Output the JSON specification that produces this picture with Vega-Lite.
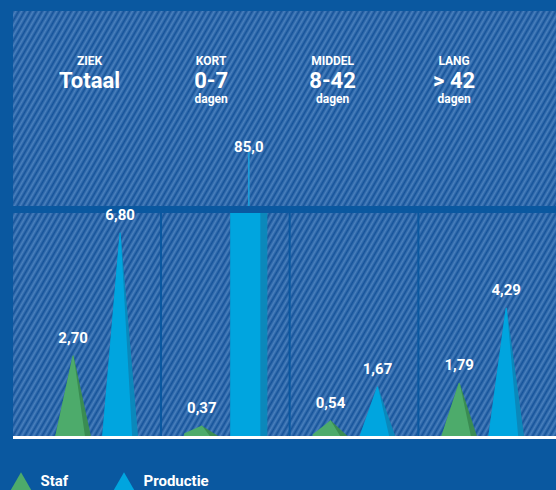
{
"$schema": "https://vega.github.io/schema/vega-lite/v6.json",
"width": 543, "height": 426,
"autosize": "none",
"padding": {"left": 13, "top": 11, "right": 0, "bottom": 53},
"background": "#0a58a0",
"config": {
 "view": {"stroke": null},
 "axis": {"disable": true},
 "font": "Roboto",
 "locale": {"number": {"decimal": ",", "thousands": ".", "grouping": [3], "currency": ["€", ""]}}
},
"datasets": {
 "bars": [
  {"cat": "Totaal", "series": "Staf", "value": 2.70},
  {"cat": "Totaal", "series": "Productie", "value": 6.80},
  {"cat": "0-7", "series": "Staf", "value": 0.37},
  {"cat": "0-7", "series": "Productie", "value": 85.0},
  {"cat": "8-42", "series": "Staf", "value": 0.54},
  {"cat": "8-42", "series": "Productie", "value": 1.67},
  {"cat": "> 42", "series": "Staf", "value": 1.79},
  {"cat": "> 42", "series": "Productie", "value": 4.29}
 ],
 "heads": [
  {"cat": "Totaal", "top": "ZIEK", "main": "Totaal", "sub": ""},
  {"cat": "0-7", "top": "KORT", "main": "0-7", "sub": "dagen"},
  {"cat": "8-42", "top": "MIDDEL", "main": "8-42", "sub": "dagen"},
  {"cat": "> 42", "top": "LANG", "main": "> 42", "sub": "dagen"}
 ]
},
"layer": [
 {
  "layer": [
   {
    "data": {"values": [{}]},
    "mark": {"type": "rect", "fill": {"gradient": "linear", "x1": 0, "y1": 0, "x2": 1.2056, "y2": 0.5461, "stops": [
{"offset":0,"color":"#15539a"},{"offset":0.0037,"color":"#4a80bd"},{"offset":0.0074,"color":"#15539a"},{"offset":0.0111,"color":"#4a80bd"},{"offset":0.0148,"color":"#15539a"},{"offset":0.0185,"color":"#4a80bd"},{"offset":0.0222,"color":"#15539a"},{"offset":0.0259,"color":"#4a80bd"},{"offset":0.0296,"color":"#15539a"},{"offset":0.0333,"color":"#4a80bd"},
{"offset":0.037,"color":"#15539a"},{"offset":0.0407,"color":"#4a80bd"},{"offset":0.0444,"color":"#15539a"},{"offset":0.0481,"color":"#4a80bd"},{"offset":0.0518,"color":"#15539a"},{"offset":0.0555,"color":"#4a80bd"},{"offset":0.0592,"color":"#15539a"},{"offset":0.0629,"color":"#4a80bd"},{"offset":0.0666,"color":"#15539a"},{"offset":0.0703,"color":"#4a80bd"},
{"offset":0.074,"color":"#15539a"},{"offset":0.0777,"color":"#4a80bd"},{"offset":0.0814,"color":"#15539a"},{"offset":0.0851,"color":"#4a80bd"},{"offset":0.0888,"color":"#15539a"},{"offset":0.0925,"color":"#4a80bd"},{"offset":0.0962,"color":"#15539a"},{"offset":0.0999,"color":"#4a80bd"},{"offset":0.1036,"color":"#15539a"},{"offset":0.1073,"color":"#4a80bd"},
{"offset":0.111,"color":"#15539a"},{"offset":0.1147,"color":"#4a80bd"},{"offset":0.1184,"color":"#15539a"},{"offset":0.1221,"color":"#4a80bd"},{"offset":0.1258,"color":"#15539a"},{"offset":0.1295,"color":"#4a80bd"},{"offset":0.1332,"color":"#15539a"},{"offset":0.1369,"color":"#4a80bd"},{"offset":0.1406,"color":"#15539a"},{"offset":0.1443,"color":"#4a80bd"},
{"offset":0.148,"color":"#15539a"},{"offset":0.1517,"color":"#4a80bd"},{"offset":0.1554,"color":"#15539a"},{"offset":0.1591,"color":"#4a80bd"},{"offset":0.1628,"color":"#15539a"},{"offset":0.1665,"color":"#4a80bd"},{"offset":0.1702,"color":"#15539a"},{"offset":0.1739,"color":"#4a80bd"},{"offset":0.1776,"color":"#15539a"},{"offset":0.1813,"color":"#4a80bd"},
{"offset":0.185,"color":"#15539a"},{"offset":0.1887,"color":"#4a80bd"},{"offset":0.1924,"color":"#15539a"},{"offset":0.1961,"color":"#4a80bd"},{"offset":0.1998,"color":"#15539a"},{"offset":0.2035,"color":"#4a80bd"},{"offset":0.2072,"color":"#15539a"},{"offset":0.2109,"color":"#4a80bd"},{"offset":0.2146,"color":"#15539a"},{"offset":0.2183,"color":"#4a80bd"},
{"offset":0.222,"color":"#15539a"},{"offset":0.2257,"color":"#4a80bd"},{"offset":0.2294,"color":"#15539a"},{"offset":0.2331,"color":"#4a80bd"},{"offset":0.2368,"color":"#15539a"},{"offset":0.2405,"color":"#4a80bd"},{"offset":0.2442,"color":"#15539a"},{"offset":0.2479,"color":"#4a80bd"},{"offset":0.2516,"color":"#15539a"},{"offset":0.2553,"color":"#4a80bd"},
{"offset":0.259,"color":"#15539a"},{"offset":0.2627,"color":"#4a80bd"},{"offset":0.2664,"color":"#15539a"},{"offset":0.2701,"color":"#4a80bd"},{"offset":0.2738,"color":"#15539a"},{"offset":0.2775,"color":"#4a80bd"},{"offset":0.2812,"color":"#15539a"},{"offset":0.2849,"color":"#4a80bd"},{"offset":0.2886,"color":"#15539a"},{"offset":0.2923,"color":"#4a80bd"},
{"offset":0.296,"color":"#15539a"},{"offset":0.2997,"color":"#4a80bd"},{"offset":0.3034,"color":"#15539a"},{"offset":0.3071,"color":"#4a80bd"},{"offset":0.3108,"color":"#15539a"},{"offset":0.3145,"color":"#4a80bd"},{"offset":0.3182,"color":"#15539a"},{"offset":0.3219,"color":"#4a80bd"},{"offset":0.3256,"color":"#15539a"},{"offset":0.3293,"color":"#4a80bd"},
{"offset":0.333,"color":"#15539a"},{"offset":0.3367,"color":"#4a80bd"},{"offset":0.3404,"color":"#15539a"},{"offset":0.3441,"color":"#4a80bd"},{"offset":0.3478,"color":"#15539a"},{"offset":0.3515,"color":"#4a80bd"},{"offset":0.3552,"color":"#15539a"},{"offset":0.3589,"color":"#4a80bd"},{"offset":0.3626,"color":"#15539a"},{"offset":0.3663,"color":"#4a80bd"},
{"offset":0.37,"color":"#15539a"},{"offset":0.3737,"color":"#4a80bd"},{"offset":0.3774,"color":"#15539a"},{"offset":0.3811,"color":"#4a80bd"},{"offset":0.3848,"color":"#15539a"},{"offset":0.3885,"color":"#4a80bd"},{"offset":0.3922,"color":"#15539a"},{"offset":0.3959,"color":"#4a80bd"},{"offset":0.3996,"color":"#15539a"},{"offset":0.4033,"color":"#4a80bd"},
{"offset":0.407,"color":"#15539a"},{"offset":0.4107,"color":"#4a80bd"},{"offset":0.4144,"color":"#15539a"},{"offset":0.4181,"color":"#4a80bd"},{"offset":0.4218,"color":"#15539a"},{"offset":0.4255,"color":"#4a80bd"},{"offset":0.4292,"color":"#15539a"},{"offset":0.4329,"color":"#4a80bd"},{"offset":0.4366,"color":"#15539a"},{"offset":0.4403,"color":"#4a80bd"},
{"offset":0.444,"color":"#15539a"},{"offset":0.4477,"color":"#4a80bd"},{"offset":0.4514,"color":"#15539a"},{"offset":0.4551,"color":"#4a80bd"},{"offset":0.4588,"color":"#15539a"},{"offset":0.4625,"color":"#4a80bd"},{"offset":0.4662,"color":"#15539a"},{"offset":0.4699,"color":"#4a80bd"},{"offset":0.4736,"color":"#15539a"},{"offset":0.4773,"color":"#4a80bd"},
{"offset":0.481,"color":"#15539a"},{"offset":0.4847,"color":"#4a80bd"},{"offset":0.4884,"color":"#15539a"},{"offset":0.4921,"color":"#4a80bd"},{"offset":0.4958,"color":"#15539a"},{"offset":0.4995,"color":"#4a80bd"},{"offset":0.5032,"color":"#15539a"},{"offset":0.5069,"color":"#4a80bd"},{"offset":0.5106,"color":"#15539a"},{"offset":0.5143,"color":"#4a80bd"},
{"offset":0.518,"color":"#15539a"},{"offset":0.5217,"color":"#4a80bd"},{"offset":0.5254,"color":"#15539a"},{"offset":0.5291,"color":"#4a80bd"},{"offset":0.5328,"color":"#15539a"},{"offset":0.5365,"color":"#4a80bd"},{"offset":0.5402,"color":"#15539a"},{"offset":0.5439,"color":"#4a80bd"},{"offset":0.5476,"color":"#15539a"},{"offset":0.5513,"color":"#4a80bd"},
{"offset":0.555,"color":"#15539a"},{"offset":0.5587,"color":"#4a80bd"},{"offset":0.5624,"color":"#15539a"},{"offset":0.5661,"color":"#4a80bd"},{"offset":0.5698,"color":"#15539a"},{"offset":0.5735,"color":"#4a80bd"},{"offset":0.5772,"color":"#15539a"},{"offset":0.5809,"color":"#4a80bd"},{"offset":0.5846,"color":"#15539a"},{"offset":0.5883,"color":"#4a80bd"},
{"offset":0.592,"color":"#15539a"},{"offset":0.5957,"color":"#4a80bd"},{"offset":0.5994,"color":"#15539a"},{"offset":0.6031,"color":"#4a80bd"},{"offset":0.6068,"color":"#15539a"},{"offset":0.6105,"color":"#4a80bd"},{"offset":0.6142,"color":"#15539a"},{"offset":0.6179,"color":"#4a80bd"},{"offset":0.6216,"color":"#15539a"},{"offset":0.6253,"color":"#4a80bd"},
{"offset":0.629,"color":"#15539a"},{"offset":0.6327,"color":"#4a80bd"},{"offset":0.6364,"color":"#15539a"},{"offset":0.6401,"color":"#4a80bd"},{"offset":0.6438,"color":"#15539a"},{"offset":0.6475,"color":"#4a80bd"},{"offset":0.6512,"color":"#15539a"},{"offset":0.6549,"color":"#4a80bd"},{"offset":0.6586,"color":"#15539a"},{"offset":0.6623,"color":"#4a80bd"},
{"offset":0.666,"color":"#15539a"},{"offset":0.6697,"color":"#4a80bd"},{"offset":0.6734,"color":"#15539a"},{"offset":0.6771,"color":"#4a80bd"},{"offset":0.6808,"color":"#15539a"},{"offset":0.6845,"color":"#4a80bd"},{"offset":0.6882,"color":"#15539a"},{"offset":0.6919,"color":"#4a80bd"},{"offset":0.6956,"color":"#15539a"},{"offset":0.6993,"color":"#4a80bd"},
{"offset":0.703,"color":"#15539a"},{"offset":0.7067,"color":"#4a80bd"},{"offset":0.7104,"color":"#15539a"},{"offset":0.7141,"color":"#4a80bd"},{"offset":0.7178,"color":"#15539a"},{"offset":0.7215,"color":"#4a80bd"},{"offset":0.7252,"color":"#15539a"},{"offset":0.7289,"color":"#4a80bd"},{"offset":0.7326,"color":"#15539a"},{"offset":0.7363,"color":"#4a80bd"},
{"offset":0.74,"color":"#15539a"},{"offset":0.7437,"color":"#4a80bd"},{"offset":0.7474,"color":"#15539a"},{"offset":0.7511,"color":"#4a80bd"},{"offset":0.7548,"color":"#15539a"},{"offset":0.7585,"color":"#4a80bd"},{"offset":0.7622,"color":"#15539a"},{"offset":0.7659,"color":"#4a80bd"},{"offset":0.7696,"color":"#15539a"},{"offset":0.7733,"color":"#4a80bd"},
{"offset":0.777,"color":"#15539a"},{"offset":0.7807,"color":"#4a80bd"},{"offset":0.7844,"color":"#15539a"},{"offset":0.7881,"color":"#4a80bd"},{"offset":0.7918,"color":"#15539a"},{"offset":0.7955,"color":"#4a80bd"},{"offset":0.7992,"color":"#15539a"},{"offset":0.8029,"color":"#4a80bd"},{"offset":0.8066,"color":"#15539a"},{"offset":0.8103,"color":"#4a80bd"},
{"offset":0.814,"color":"#15539a"},{"offset":0.8177,"color":"#4a80bd"},{"offset":0.8214,"color":"#15539a"},{"offset":0.8251,"color":"#4a80bd"},{"offset":0.8288,"color":"#15539a"},{"offset":0.8325,"color":"#4a80bd"},{"offset":0.8362,"color":"#15539a"},{"offset":0.8399,"color":"#4a80bd"},{"offset":0.8436,"color":"#15539a"},{"offset":0.8473,"color":"#4a80bd"},
{"offset":0.851,"color":"#15539a"},{"offset":0.8547,"color":"#4a80bd"},{"offset":0.8584,"color":"#15539a"},{"offset":0.8621,"color":"#4a80bd"},{"offset":0.8658,"color":"#15539a"},{"offset":0.8695,"color":"#4a80bd"},{"offset":0.8732,"color":"#15539a"},{"offset":0.8769,"color":"#4a80bd"},{"offset":0.8806,"color":"#15539a"},{"offset":0.8843,"color":"#4a80bd"},
{"offset":0.888,"color":"#15539a"},{"offset":0.8917,"color":"#4a80bd"},{"offset":0.8954,"color":"#15539a"},{"offset":0.8991,"color":"#4a80bd"},{"offset":0.9028,"color":"#15539a"},{"offset":0.9065,"color":"#4a80bd"},{"offset":0.9102,"color":"#15539a"},{"offset":0.9139,"color":"#4a80bd"},{"offset":0.9176,"color":"#15539a"},{"offset":0.9213,"color":"#4a80bd"},
{"offset":0.925,"color":"#15539a"},{"offset":0.9287,"color":"#4a80bd"},{"offset":0.9324,"color":"#15539a"},{"offset":0.9361,"color":"#4a80bd"},{"offset":0.9398,"color":"#15539a"},{"offset":0.9435,"color":"#4a80bd"},{"offset":0.9472,"color":"#15539a"},{"offset":0.9509,"color":"#4a80bd"},{"offset":0.9546,"color":"#15539a"},{"offset":0.9583,"color":"#4a80bd"},
{"offset":0.962,"color":"#15539a"},{"offset":0.9657,"color":"#4a80bd"},{"offset":0.9694,"color":"#15539a"},{"offset":0.9731,"color":"#4a80bd"},{"offset":0.9768,"color":"#15539a"},{"offset":0.9805,"color":"#4a80bd"},{"offset":0.9842,"color":"#15539a"},{"offset":0.9879,"color":"#4a80bd"},{"offset":0.9916,"color":"#15539a"},{"offset":0.9953,"color":"#4a80bd"},
{"offset":0.999,"color":"#15539a"},{"offset":1,"color":"#15539a"}
    ]}},
    "encoding": {}
   },
   {
    "data": {"name": "heads"},
    "transform": [{"filter": "datum.cat !== '> 42'"}],
    "mark": {"type": "rule", "stroke": "#0a58a0", "strokeWidth": 2},
    "encoding": {
     "x": {"field": "cat", "type": "nominal", "bandPosition": 1, "scale": {"type": "band", "domain": ["Totaal", "0-7", "8-42", "> 42"], "paddingInner": 0, "paddingOuter": 0.1096, "align": 0.683, "round": false}},
     "y": {"datum": 0, "scale": {"type": "linear", "domain": [0, 14.2], "nice": false, "zero": false}},
     "y2": {"datum": 7.4667}
    }
   },
   {
    "data": {"name": "bars"},
    "transform": [{"filter": "datum.value >= 20"}],
    "mark": {"type": "rule", "stroke": "#19a0dc", "strokeWidth": 1.5},
    "encoding": {
     "x": {"field": "cat", "type": "nominal"},
     "xOffset": {"field": "series", "type": "nominal", "scale": {"type": "band", "domain": ["_0","_1","_2","_3","_4","_5","_6","_7","_8","_9","_10","Staf|b","Staf","_13","_14","_15","_16","_17","_18","_19","_20","_21","_22","_23","_24","_25","_26","Productie|b","Productie","_29","_30","_31","_32","_33","_34","_35","_36","_37","_38","_39","_40","_41"], "paddingInner": 0, "paddingOuter": 0.905, "align": 0.776, "round": false}},
     "y": {"datum": 7.4667},
     "y2": {"datum": 9.5}
    }
   },
   {
    "data": {"values": [{}]},
    "mark": {"type": "rect", "fill": "#0a58a0"},
    "encoding": {"y": {"datum": 7.4667}, "y2": {"datum": 7.7}}
   },
   {
    "data": {"name": "bars"},
    "mark": {"type": "point", "filled": true, "opacity": 1, "clip": true, "shape": "triangle-up", "size": 420},
    "encoding": {
     "x": {"field": "cat", "type": "nominal"},
     "y": {"datum": -3},
     "color": {"field": "series", "type": "nominal", "scale": {"domain": ["Staf", "Productie"], "range": ["#4dab6b", "#00a5df"]},
      "legend": {"orient": "none", "legendX": -2.5, "legendY": 459.4, "direction": "horizontal", "title": null, "padding": 0,
       "symbolType": "triangle-up", "symbolSize": 420, "symbolStrokeWidth": 0, "symbolOpacity": 1,
       "labelColor": "white", "labelFont": "Roboto", "labelFontSize": 15, "labelFontWeight": "bold", "labelOffset": 9, "columnPadding": 45}}
    }
   },
   {
    "data": {"name": "bars"},
    "transform": [
     {"filter": "datum.value < 20"},
     {"calculate": "0", "as": "base"},
     {"fold": ["base", "value"], "as": ["end", "h"]}
    ],
    "mark": {"type": "trail", "clip": true},
    "encoding": {
     "x": {"field": "cat", "type": "nominal"},
     "xOffset": {"field": "series", "type": "nominal"},
     "y": {"field": "h", "type": "quantitative"},
     "size": {"field": "end", "type": "ordinal", "scale": {"domain": ["base", "value"], "range": [36, 0]}, "legend": null},
     "detail": [{"field": "cat"}, {"field": "series"}],
     "color": {"condition": {"test": "datum.series === 'Staf'", "value": "#3a8c52"}, "value": "#0b88bb"}
    }
   },
   {
    "data": {"name": "bars"},
    "transform": [
     {"filter": "datum.value < 20"},
     {"calculate": "0", "as": "base"},
     {"fold": ["base", "value"], "as": ["end", "h"]},
     {"calculate": "datum.end === 'base' ? datum.series + '|b' : datum.series", "as": "slot"}
    ],
    "mark": {"type": "trail", "clip": true},
    "encoding": {
     "x": {"field": "cat", "type": "nominal"},
     "xOffset": {"field": "slot", "type": "nominal"},
     "y": {"field": "h", "type": "quantitative"},
     "size": {"field": "end", "type": "ordinal", "scale": {"domain": ["base", "value"], "range": [30, 0]}, "legend": null},
     "detail": [{"field": "cat"}, {"field": "series"}],
     "color": {"condition": {"test": "datum.series === 'Staf'", "value": "#4dab6b"}, "value": "#00a5df"}
    }
   },
   {
    "data": {"name": "bars"},
    "transform": [{"filter": "datum.value < 20"}],
    "mark": {"type": "text", "dy": -18, "baseline": "middle", "align": "center", "font": "Roboto", "fontWeight": "bold", "fontSize": 15, "color": "white"},
    "encoding": {
     "x": {"field": "cat", "type": "nominal"},
     "xOffset": {"field": "series", "type": "nominal"},
     "y": {"field": "value", "type": "quantitative"},
     "text": {"field": "value", "type": "quantitative", "format": ".2f"}
    }
   }
  ],
  "resolve": {"scale": {"size": "independent"}}
 },
 {
  "data": {"name": "bars"},
  "transform": [{"filter": "datum.value >= 20"}],
  "layer": [
   {
    "mark": {"type": "bar", "width": 37, "xOffset": 23.5, "fill": "#0b88bb"},
    "encoding": {
     "x": {"field": "cat", "type": "nominal", "scale": {"type": "band", "domain": ["Totaal", "0-7", "8-42", "> 42"], "paddingInner": 0, "paddingOuter": 0.1096, "align": 0.683, "round": false}},
     "y": {"field": "value", "type": "quantitative", "scale": {"type": "linear", "domain": [0, 161.65], "nice": false, "zero": true}}
    }
   },
   {
    "mark": {"type": "bar", "width": 30, "xOffset": 20, "fill": "#00a5df"},
    "encoding": {
     "x": {"field": "cat", "type": "nominal"},
     "y": {"field": "value", "type": "quantitative"}
    }
   },
   {
    "mark": {"type": "text", "xOffset": 23.5, "dy": -65.5, "baseline": "middle", "align": "center", "font": "Roboto", "fontWeight": "bold", "fontSize": 15, "color": "white"},
    "encoding": {
     "x": {"field": "cat", "type": "nominal"},
     "y": {"field": "value", "type": "quantitative"},
     "text": {"field": "value", "type": "quantitative", "format": ".1f"}
    }
   }
  ]
 },
 {
  "data": {"name": "heads"},
  "layer": [
   {
    "mark": {"type": "text", "baseline": "alphabetic", "align": "center", "font": "Roboto", "fontWeight": "bold", "fontSize": 12, "color": "white"},
    "encoding": {
     "x": {"field": "cat", "type": "nominal", "scale": {"type": "band", "domain": ["Totaal", "0-7", "8-42", "> 42"], "paddingInner": 0, "paddingOuter": 0.2346, "align": 0.278, "round": false}},
     "y": {"datum": 12.39, "scale": {"type": "linear", "domain": [0, 14.2], "nice": false, "zero": false}},
     "text": {"field": "top", "type": "nominal"}
    }
   },
   {
    "mark": {"type": "text", "baseline": "alphabetic", "align": "center", "font": "Roboto", "fontWeight": "bold", "fontSize": 22, "color": "white"},
    "encoding": {
     "x": {"field": "cat", "type": "nominal"},
     "y": {"datum": 11.643},
     "text": {"field": "main", "type": "nominal"}
    }
   },
   {
    "mark": {"type": "text", "baseline": "alphabetic", "align": "center", "font": "Roboto", "fontWeight": "bold", "fontSize": 12, "color": "white"},
    "encoding": {
     "x": {"field": "cat", "type": "nominal"},
     "y": {"datum": 11.123},
     "text": {"field": "sub", "type": "nominal"}
    }
   },
   {
    "data": {"values": [{}]},
    "mark": {"type": "rule", "stroke": "white", "strokeWidth": 3},
    "encoding": {"y": {"datum": -0.017}}
   }
  ]
 }
],
"resolve": {"scale": {"x": "independent", "y": "independent"}}
}
